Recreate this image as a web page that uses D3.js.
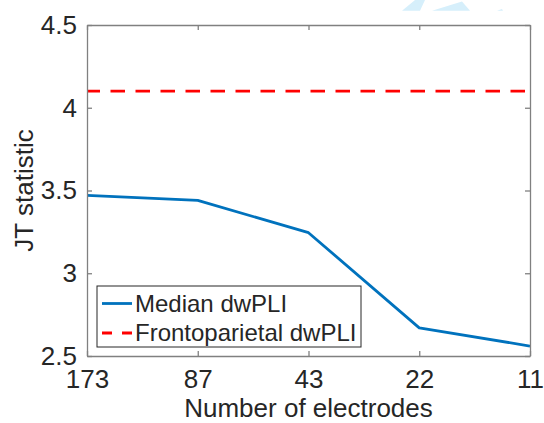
<!DOCTYPE html>
<html>
<head>
<meta charset="utf-8">
<script src="https://cdn.jsdelivr.net/npm/d3@7"></script>
<style>
  body { margin: 0; background: #fff; }
  text { font-family: "Liberation Sans", Arial, Helvetica, sans-serif; }
</style>
</head>
<body>
<div id="chart"></div>
<script>
// electrode counts (categorical x axis) and JT statistics
var electrodes = ["173", "87", "43", "22", "11"]
var medianDwpli = [3.47, 3.44, 3.245, 2.67, 2.56]
var frontoparietal = 4.1
var yTicks = [2.5, 3, 3.5, 4, 4.5]
var legendLabels = ["Median dwPLI", "Frontoparietal dwPLI"]

var width = 544, height = 423
var margin = {top: 25, right: 14, bottom: 67, left: 87}

var svg = d3.select("#chart")
  .append("svg")
  .attr("width", width)
  .attr("height", height)

// faint watermark cut at the top edge of the original
var wm = svg.append("g").attr("fill", "#d6effb")
wm.append("path").attr("d", "M415,0 L425,0 L420,10.7 L402,10.7 Z")
wm.append("path").attr("d", "M432,10.7 L462,1.5 L470,10.7 Z")
wm.append("path").attr("d", "M497,10.7 L502,9 L503,10.7 Z")

var x = d3.scalePoint()
  .domain(electrodes)
  .range([margin.left, width - margin.right])

var y = d3.scaleLinear()
  .domain([2.5, 4.5])
  .range([height - margin.bottom, margin.top])

var x0 = margin.left, x1 = width - margin.right
var y0 = height - margin.bottom, y1 = margin.top

var axisColor = "#808080", textColor = "#262626"

// data lines (clipped to plot box)
svg.append("clipPath").attr("id", "clip")
  .append("rect")
  .attr("x", x0).attr("y", y1)
  .attr("width", x1 - x0).attr("height", y0 - y1)

var plot = svg.append("g").attr("clip-path", "url(#clip)")

plot.append("line")
  .attr("x1", x0).attr("x2", x1)
  .attr("y1", y(frontoparietal)).attr("y2", y(frontoparietal))
  .attr("stroke", "#ff0000")
  .attr("stroke-width", 2.8)
  .attr("stroke-dasharray", "14.5,10.5")
  .attr("stroke-dashoffset", 1.5)

var line = d3.line()
  .x(function(d, i) { return x(electrodes[i]) })
  .y(function(d) { return y(d) })

plot.append("path")
  .datum(medianDwpli)
  .attr("d", line)
  .attr("fill", "none")
  .attr("stroke", "#0072bd")
  .attr("stroke-width", 2.8)
  .attr("stroke-linejoin", "round")

// axes: bottom/left with labels, top/right mirrored ticks
var axBottom = svg.append("g")
  .attr("transform", "translate(0," + y0 + ")")
  .call(d3.axisBottom(x).tickSizeInner(-5).tickSizeOuter(0).tickPadding(12))
var axTop = svg.append("g")
  .attr("transform", "translate(0," + y1 + ")")
  .call(d3.axisTop(x).tickSizeInner(-5).tickSizeOuter(0).tickFormat(""))
var axLeft = svg.append("g")
  .attr("transform", "translate(" + x0 + ",0)")
  .call(d3.axisLeft(y).tickValues(yTicks).tickSizeInner(-5).tickSizeOuter(0).tickPadding(10).tickFormat(d3.format("")))
var axRight = svg.append("g")
  .attr("transform", "translate(" + x1 + ",0)")
  .call(d3.axisRight(y).tickValues(yTicks).tickSizeInner(-5).tickSizeOuter(0).tickFormat(""))

;[axBottom, axTop, axLeft, axRight].forEach(function(g) {
  g.select(".domain").attr("stroke", axisColor).attr("stroke-width", 1.3)
  g.selectAll(".tick line").attr("stroke", axisColor).attr("stroke-width", 1.3)
  g.selectAll(".tick text")
    .attr("fill", textColor)
    .style("font-family", "'Liberation Sans', Arial, Helvetica, sans-serif")
    .style("font-size", "26px")
})
axBottom.selectAll(".tick text").attr("dy", "0.71em").attr("y", 14)
axLeft.selectAll(".tick text").attr("x", -10)

svg.append("text")
  .attr("x", (x0 + x1) / 2)
  .attr("y", 417)
  .attr("text-anchor", "middle")
  .attr("fill", textColor)
  .style("font-size", "26px")
  .text("Number of electrodes")

svg.append("text")
  .attr("transform", "translate(33," + ((y0 + y1) / 2) + ") rotate(-90)")
  .attr("text-anchor", "middle")
  .attr("fill", textColor)
  .style("font-size", "26px")
  .text("JT statistic")

// legend
var leg = svg.append("g")
leg.append("rect")
  .attr("x", 97).attr("y", 286)
  .attr("width", 264).attr("height", 61)
  .attr("fill", "#fff")
  .attr("stroke", textColor)
  .attr("stroke-width", 1)

var legStyles = [
  {color: "#0072bd", dash: null},
  {color: "#ff0000", dash: "10,10"}
]
legendLabels.forEach(function(lbl, i) {
  var cy = 303.5 + i * 29.5
  leg.append("line")
    .attr("x1", 102).attr("x2", 132)
    .attr("y1", cy).attr("y2", cy)
    .attr("stroke", legStyles[i].color)
    .attr("stroke-width", 2.8)
    .attr("stroke-dasharray", legStyles[i].dash)
  leg.append("text")
    .attr("x", 135).attr("y", cy)
    .attr("dy", "0.35em")
    .attr("fill", textColor)
    .style("font-size", "24px")
    .text(lbl)
})
</script>
</body>
</html>
